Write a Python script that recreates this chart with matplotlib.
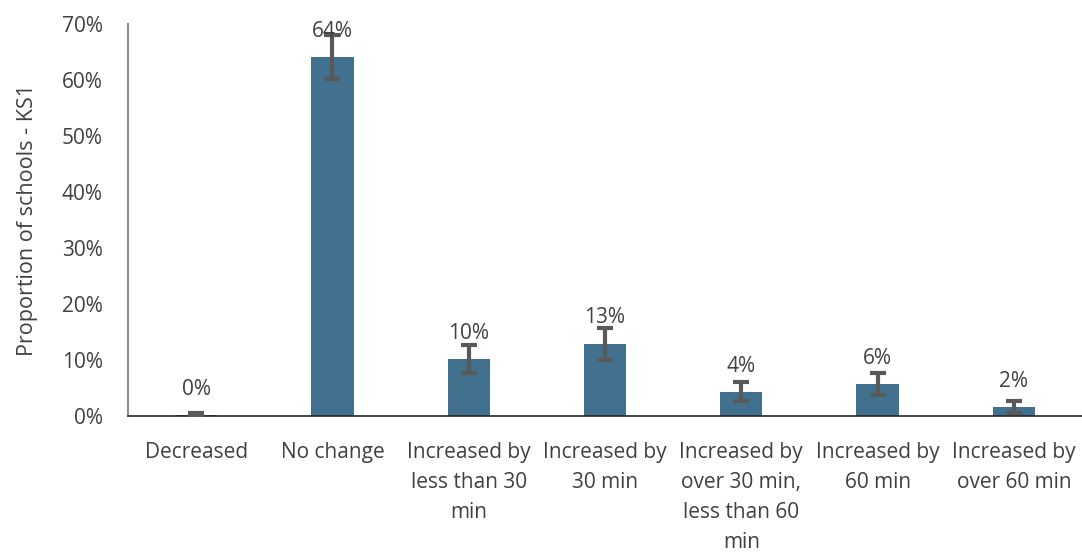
import numpy as np
import matplotlib.pyplot as plt
from matplotlib.ticker import PercentFormatter

# Data
categories = ["Decreased", "No change", "Increased by\nless than 30\nmin", "Increased by\n30 min",
              "Increased by\nover 30 min,\nless than 60\nmin", "Increased by\n60 min",
              "Increased by\nover 60 min"]
values = [0.002, 0.641, 0.102, 0.129, 0.043, 0.057, 0.016]
errors = [0.003, 0.040, 0.025, 0.029, 0.017, 0.020, 0.011]
labels = ["0%", "64%", "10%", "13%", "4%", "6%", "2%"]

plt.rcParams['font.family'] = ['Open Sans', 'DejaVu Sans']
text_col = '#404040'

fig = plt.figure(figsize=(10.82, 5.54), dpi=100)
ax = fig.add_axes([128 / 1082, 1 - 416 / 554, 954 / 1082, (416 - 24) / 554])

x = np.arange(len(categories))
ax.bar(x, values, width=0.31, color='#41718f', zorder=2)
ax.errorbar(x, values, yerr=errors, fmt='none', ecolor='#595959', elinewidth=3,
            capsize=6, capthick=3, zorder=3)

for xi, v, lab in zip(x, values, labels):
    ax.annotate(lab, (xi, v), xytext=(0, 11), textcoords='offset points',
                ha='center', va='bottom', fontsize=15, color=text_col, zorder=4)

ax.set_xlim(-0.5, len(categories) - 0.5)
ax.set_ylim(0, 0.70)
ax.set_yticks(np.arange(0, 0.71, 0.10))
ax.yaxis.set_major_formatter(PercentFormatter(1.0, decimals=0))
ax.set_xticks(x)
ax.set_xticklabels(categories, fontsize=15, color=text_col, linespacing=1.55)
ax.tick_params(axis='y', length=0, labelsize=15, labelcolor=text_col, pad=18)
ax.tick_params(axis='x', length=0, pad=19)
ax.set_ylabel("Proportion of schools - KS1", fontsize=15.5, color=text_col, labelpad=17)

for side in ['top', 'right']:
    ax.spines[side].set_visible(False)
ax.spines['left'].set_color('#8c8c8c')
ax.spines['left'].set_linewidth(1.5)
ax.spines['bottom'].set_color('#262626')
ax.spines['bottom'].set_linewidth(1.2)

fig.savefig('out.png', dpi=100)
